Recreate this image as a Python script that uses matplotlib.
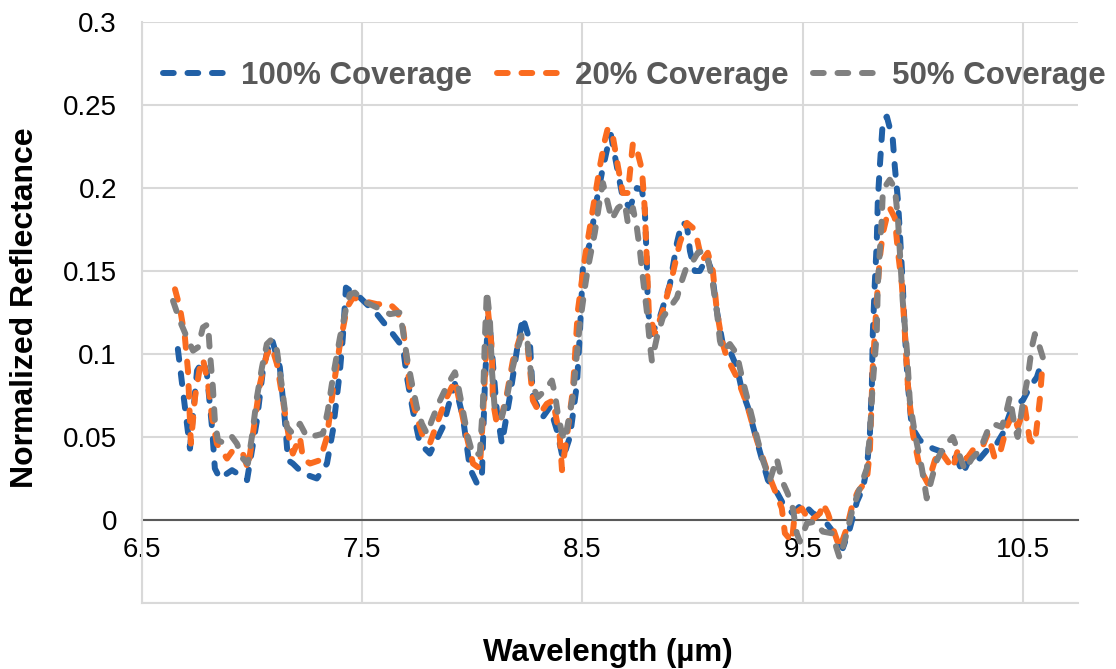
import matplotlib

matplotlib.use("Agg")
import matplotlib.pyplot as plt

plt.rcParams["font.family"] = ["Liberation Sans", "DejaVu Sans"]

# 100% coverage
wl_100 = [6.663, 6.718, 6.750, 6.777, 6.795, 6.818, 6.831, 6.854, 6.909, 6.945, 6.977,
          7.022, 7.049, 7.081, 7.090, 7.126, 7.149, 7.163, 7.185, 7.231, 7.294, 7.340,
          7.367, 7.399, 7.412, 7.426, 7.490, 7.567, 7.639, 7.685, 7.703, 7.730, 7.762,
          7.807, 7.866, 7.898, 7.921, 7.957, 7.989, 8.021, 8.043, 8.057, 8.071, 8.080,
          8.111, 8.134, 8.170, 8.202, 8.229, 8.261, 8.275, 8.320, 8.352, 8.384, 8.411,
          8.443, 8.475, 8.488, 8.502, 8.534, 8.565, 8.588, 8.611, 8.629, 8.656, 8.683,
          8.715, 8.747, 8.770, 8.783, 8.792, 8.797, 8.815, 8.851, 8.897, 8.929, 8.951,
          8.974, 8.988, 9.010, 9.033, 9.065, 9.087, 9.110, 9.137, 9.169, 9.201, 9.224,
          9.251, 9.283, 9.314, 9.342, 9.373, 9.410, 9.455, 9.500, 9.546, 9.591, 9.637,
          9.682, 9.714, 9.746, 9.773, 9.791, 9.805, 9.814, 9.818, 9.827, 9.836, 9.841,
          9.850, 9.864, 9.882, 9.909, 9.918, 9.932, 9.941, 9.954, 9.964, 9.977, 9.995,
          10.032, 10.091, 10.154, 10.200, 10.227, 10.268, 10.304, 10.336, 10.381, 10.408,
          10.440, 10.472, 10.499, 10.531, 10.563, 10.590]
r_100 = [0.103, 0.043, 0.090, 0.096, 0.088, 0.056, 0.031, 0.025, 0.030, 0.027, 0.024,
         0.060, 0.090, 0.108, 0.109, 0.092, 0.060, 0.036, 0.034, 0.028, 0.025, 0.034,
         0.054, 0.090, 0.110, 0.140, 0.134, 0.124, 0.112, 0.104, 0.086, 0.066, 0.046,
         0.040, 0.056, 0.072, 0.082, 0.062, 0.031, 0.022, 0.025, 0.082, 0.122, 0.116,
         0.066, 0.046, 0.074, 0.102, 0.122, 0.108, 0.074, 0.062, 0.068, 0.054, 0.037,
         0.050, 0.082, 0.112, 0.152, 0.167, 0.193, 0.209, 0.223, 0.232, 0.213, 0.194,
         0.188, 0.200, 0.199, 0.187, 0.156, 0.126, 0.112, 0.122, 0.142, 0.167, 0.179,
         0.178, 0.162, 0.150, 0.150, 0.158, 0.150, 0.126, 0.106, 0.102, 0.092, 0.078,
         0.068, 0.052, 0.037, 0.024, 0.019, 0.010, 0.004, 0.010, 0.004, 0.001, -0.007,
         -0.017, -0.005, 0.011, 0.019, 0.031, 0.052, 0.082, 0.112, 0.142, 0.167, 0.193,
         0.213, 0.241, 0.243, 0.229, 0.213, 0.193, 0.173, 0.142, 0.112, 0.082, 0.056,
         0.048, 0.043, 0.040, 0.037, 0.028, 0.040, 0.037, 0.042, 0.046, 0.052,
         0.064, 0.070, 0.072, 0.080, 0.086, 0.097]

# 20% coverage
wl_20 = [6.650, 6.672, 6.695, 6.709, 6.722, 6.741, 6.763, 6.777, 6.800, 6.818, 6.840,
         6.886, 6.913, 6.958, 6.981, 7.004, 7.036, 7.067, 7.090, 7.113, 7.140, 7.172,
         7.185, 7.217, 7.231, 7.263, 7.308, 7.340, 7.367, 7.399, 7.431, 7.458, 7.503,
         7.567, 7.626, 7.658, 7.685, 7.703, 7.717, 7.748, 7.776, 7.807, 7.839, 7.884,
         7.921, 7.944, 7.975, 8.003, 8.034, 8.048, 8.066, 8.071, 8.089, 8.093, 8.111,
         8.125, 8.157, 8.184, 8.216, 8.248, 8.261, 8.275, 8.307, 8.338, 8.366, 8.397,
         8.407, 8.429, 8.456, 8.479, 8.511, 8.547, 8.579, 8.602, 8.615, 8.638, 8.661,
         8.683, 8.706, 8.724, 8.729, 8.751, 8.770, 8.783, 8.792, 8.801, 8.829, 8.865,
         8.906, 8.942, 8.974, 9.001, 9.019, 9.042, 9.069, 9.092, 9.110, 9.133, 9.155,
         9.201, 9.246, 9.292, 9.337, 9.373, 9.405, 9.419, 9.451, 9.464, 9.496, 9.532,
         9.578, 9.591, 9.614, 9.637, 9.668, 9.700, 9.727, 9.750, 9.791, 9.805, 9.818,
         9.836, 9.850, 9.864, 9.886, 9.895, 9.918, 9.932, 9.950, 9.964, 9.977, 10.000,
         10.032, 10.068, 10.100, 10.122, 10.154, 10.181, 10.204, 10.245, 10.272, 10.313,
         10.340, 10.372, 10.395, 10.426, 10.454, 10.476, 10.508, 10.531, 10.554, 10.576,
         10.590]
r_20 = [0.139, 0.128, 0.110, 0.090, 0.046, 0.074, 0.092, 0.097, 0.082, 0.062, 0.046,
        0.037, 0.042, 0.040, 0.031, 0.052, 0.082, 0.100, 0.104, 0.094, 0.072, 0.046,
        0.040, 0.050, 0.037, 0.034, 0.036, 0.050, 0.078, 0.106, 0.128, 0.134, 0.132,
        0.130, 0.130, 0.126, 0.116, 0.096, 0.078, 0.062, 0.050, 0.046, 0.058, 0.074,
        0.084, 0.070, 0.050, 0.034, 0.031, 0.062, 0.112, 0.126, 0.102, 0.072, 0.058,
        0.058, 0.076, 0.096, 0.110, 0.108, 0.092, 0.072, 0.064, 0.070, 0.072, 0.050,
        0.030, 0.050, 0.078, 0.126, 0.158, 0.187, 0.213, 0.229, 0.236, 0.231, 0.213,
        0.197, 0.197, 0.221, 0.227, 0.221, 0.211, 0.187, 0.156, 0.126, 0.112, 0.126,
        0.146, 0.167, 0.179, 0.176, 0.170, 0.156, 0.161, 0.150, 0.126, 0.108, 0.098,
        0.086, 0.070, 0.048, 0.030, 0.018, 0.007, -0.008, -0.013, 0.004, 0.007, -0.001,
        0.004, 0.010, 0.004, -0.005, -0.017, -0.005, 0.010, 0.017, 0.024, 0.042, 0.092,
        0.132, 0.158, 0.173, 0.185, 0.188, 0.182, 0.162, 0.142, 0.112, 0.082, 0.052,
        0.031, 0.022, 0.036, 0.042, 0.036, 0.031, 0.042, 0.037, 0.042, 0.043,
        0.052, 0.037, 0.040, 0.056, 0.064, 0.056, 0.068, 0.048, 0.046, 0.072,
        0.096]

# 50% coverage
wl_50 = [6.641, 6.672, 6.704, 6.732, 6.754, 6.777, 6.800, 6.809, 6.822, 6.831, 6.845,
         6.877, 6.909, 6.931, 6.958, 6.981, 6.999, 7.022, 7.045, 7.067, 7.090, 7.113,
         7.136, 7.158, 7.185, 7.217, 7.249, 7.294, 7.322, 7.344, 7.367, 7.399, 7.431,
         7.444, 7.467, 7.503, 7.567, 7.626, 7.671, 7.685, 7.703, 7.726, 7.748, 7.771,
         7.794, 7.816, 7.853, 7.889, 7.921, 7.934, 7.957, 7.980, 8.003, 8.034, 8.048,
         8.057, 8.066, 8.080, 8.089, 8.102, 8.134, 8.157, 8.180, 8.202, 8.225, 8.248,
         8.261, 8.275, 8.298, 8.329, 8.361, 8.375, 8.388, 8.407, 8.420, 8.434, 8.456,
         8.475, 8.488, 8.511, 8.525, 8.556, 8.579, 8.593, 8.615, 8.633, 8.661, 8.692,
         8.706, 8.729, 8.747, 8.761, 8.774, 8.792, 8.806, 8.815, 8.838, 8.865, 8.897,
         8.929, 8.951, 8.974, 8.997, 9.024, 9.047, 9.069, 9.092, 9.110, 9.124, 9.137,
         9.169, 9.201, 9.224, 9.251, 9.292, 9.319, 9.351, 9.382, 9.405, 9.432, 9.455,
         9.473, 9.487, 9.519, 9.555, 9.591, 9.632, 9.668, 9.700, 9.727, 9.759, 9.791,
         9.805, 9.818, 9.836, 9.841, 9.859, 9.864, 9.895, 9.918, 9.932, 9.941, 9.954,
         9.973, 9.986, 10.009, 10.041, 10.063, 10.086, 10.109, 10.136, 10.181, 10.204,
         10.236, 10.268, 10.304, 10.340, 10.363, 10.404, 10.426, 10.440, 10.463, 10.476,
         10.499, 10.522, 10.540, 10.554, 10.576, 10.590]
r_50 = [0.132, 0.120, 0.110, 0.102, 0.104, 0.116, 0.118, 0.100, 0.080, 0.060, 0.048,
        0.046, 0.050, 0.046, 0.037, 0.034, 0.050, 0.074, 0.092, 0.106, 0.109, 0.102,
        0.080, 0.056, 0.052, 0.058, 0.050, 0.051, 0.052, 0.066, 0.086, 0.110, 0.130,
        0.136, 0.137, 0.132, 0.128, 0.124, 0.125, 0.114, 0.098, 0.082, 0.068, 0.058,
        0.052, 0.060, 0.072, 0.082, 0.089, 0.082, 0.066, 0.050, 0.039, 0.040, 0.070,
        0.110, 0.138, 0.120, 0.090, 0.066, 0.062, 0.074, 0.090, 0.102, 0.112, 0.110,
        0.094, 0.080, 0.074, 0.078, 0.084, 0.076, 0.064, 0.052, 0.048, 0.058, 0.074,
        0.100, 0.118, 0.140, 0.152, 0.173, 0.193, 0.203, 0.191, 0.181, 0.188, 0.191,
        0.179, 0.188, 0.176, 0.162, 0.146, 0.126, 0.106, 0.096, 0.110, 0.122, 0.128,
        0.134, 0.144, 0.153, 0.155, 0.161, 0.162, 0.158, 0.142, 0.126, 0.108, 0.102,
        0.106, 0.100, 0.086, 0.072, 0.050, 0.036, 0.024, 0.037, 0.024, 0.016, 0.007,
        -0.008, -0.013, -0.002, -0.001, -0.007, -0.008, -0.023, -0.008, 0.007, 0.019, 0.031,
        0.052, 0.082, 0.112, 0.142, 0.182, 0.199, 0.205, 0.200, 0.182, 0.162, 0.132,
        0.102, 0.072, 0.052, 0.031, 0.013, 0.025, 0.036, 0.043, 0.050, 0.042,
        0.030, 0.037, 0.042, 0.054, 0.058, 0.056, 0.066, 0.074, 0.056, 0.050,
        0.070, 0.086, 0.104, 0.112, 0.104, 0.098]

SERIES = [
    ("100% Coverage", wl_100, r_100, "#2160a6"),
    ("20% Coverage", wl_20, r_20, "#fa6b1f"),
    ("50% Coverage", wl_50, r_50, "#808080"),
]

X_TICKS = [6.5, 7.5, 8.5, 9.5, 10.5]
Y_TICKS = [-0.05, 0, 0.05, 0.1, 0.15, 0.2, 0.25, 0.3]
Y_LABELS = ["", "0", "0.05", "0.1", "0.15", "0.2", "0.25", "0.3"]

GRID = "#d9d9d9"

fig = plt.figure(figsize=(11.16, 6.69), dpi=100)
ax = fig.add_axes([0.1272, 0.0987, 0.8388, 0.8684])

for label, wl, r, color in SERIES:
    ax.plot(wl, r, color=color, linewidth=4.3, linestyle=(0, (1.8, 2.3)),
            dash_capstyle="round", solid_capstyle="round", label=label)

ax.set_xlim(6.5, 10.75)
ax.set_ylim(-0.05, 0.3)
ax.set_xticks(X_TICKS)
ax.set_yticks(Y_TICKS)
ax.set_yticklabels(Y_LABELS)
ax.grid(True, color=GRID, linewidth=1.5)
ax.set_axisbelow(True)

for side in ["top", "right"]:
    ax.spines[side].set_visible(False)
ax.spines["left"].set_color(GRID)
ax.spines["left"].set_linewidth(1.5)
ax.spines["bottom"].set_position(("data", 0))
ax.spines["bottom"].set_color("#595959")
ax.spines["bottom"].set_linewidth(1.5)
ax.spines["bottom"].set_zorder(1)
ax.axhline(-0.05, color=GRID, linewidth=1.5, zorder=0.5, clip_on=False)

ax.tick_params(axis="both", length=0, labelsize=20, colors="black")
ax.tick_params(axis="x", pad=12)
ax.tick_params(axis="y", pad=18)

fig.text(0.022, 0.54, "Normalized Reflectance", rotation=90, fontsize=23,
         fontweight="bold", ha="center", va="center")
fig.text(0.545, 0.024, "Wavelength (\u00b5m)", fontsize=22.5, fontweight="bold",
         ha="center", va="center")

leg = fig.legend(loc="center", bbox_to_anchor=(0.568, 0.887), ncol=3, frameon=False,
                 handlelength=2.1, handletextpad=0.4, columnspacing=0.8,
                 prop={"size": 22.5, "weight": "bold"})
for text in leg.get_texts():
    text.set_color("#595959")

fig.savefig("out.png", dpi=100, facecolor="white")
